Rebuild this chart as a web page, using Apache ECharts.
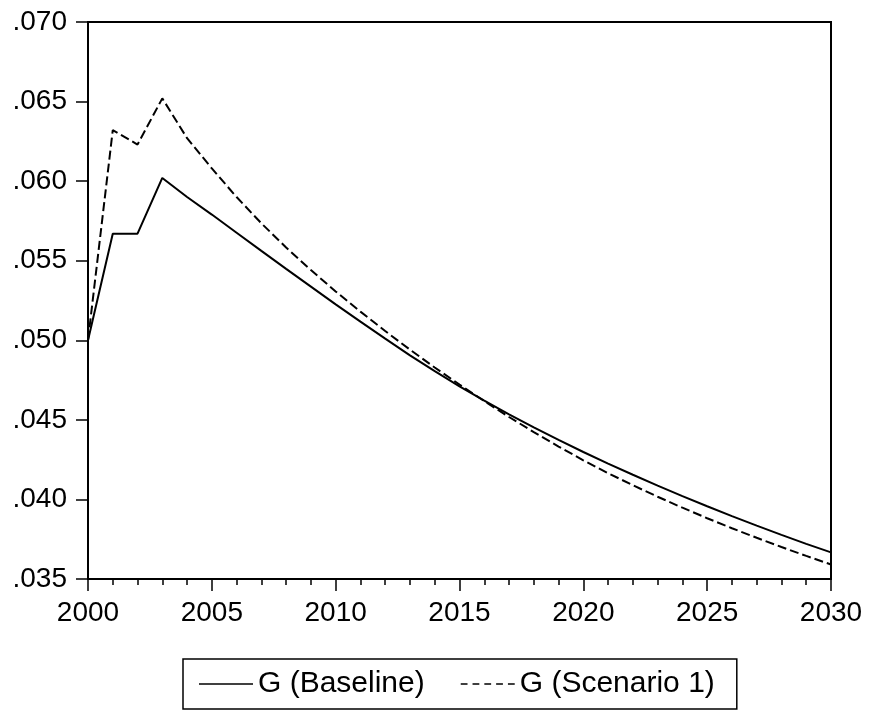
<!DOCTYPE html>
<html>
<head>
<meta charset="utf-8">
<script src="https://cdn.jsdelivr.net/npm/echarts@6/dist/echarts.min.js"></script>
<style>
html,body{margin:0;padding:0;background:#fff;}
#chart{width:869px;height:711px;}
</style>
</head>
<body>
<div id="chart"></div>
<script>
const years = [2000,2001,2002,2003,2004,2005,2006,2007,2008,2009,2010,
  2011,2012,2013,2014,2015,2016,2017,2018,2019,2020,
  2021,2022,2023,2024,2025,2026,2027,2028,2029,2030];
const baseline = [0.0500,0.0567,0.0567,0.0602,0.0590,0.0579,0.05676,0.05562,0.05449,0.05337,0.05226,
  0.05117,0.05010,0.04905,0.04806,0.04711,0.04621,0.04535,0.04453,0.04374,0.04298,
  0.04225,0.04155,0.04087,0.04021,0.03957,0.03895,0.03835,0.03777,0.03721,0.03667];
const scenario1 = [0.0500,0.0632,0.0623,0.0652,0.0627,0.0608,0.05900,0.05735,0.05583,0.05441,0.05307,
  0.05180,0.05058,0.04941,0.04829,0.04722,0.04618,0.04518,0.04423,0.04332,0.04246,
  0.04165,0.04089,0.04017,0.03948,0.03882,0.03819,0.03759,0.03701,0.03645,0.03591];
const seriesNames = ['G (Baseline)', 'G (Scenario 1)'];

const SOLID_ICON = 'path://M0,0H54V1.6H0Z';
const DASH_ICON = 'path://M0,0H6.8V1.6H0Z M11.8,0H18.6V1.6H11.8Z M23.6,0H30.4V1.6H23.6Z M35.4,0H42.2V1.6H35.4Z M47.2,0H54V1.6H47.2Z';

const chart = echarts.init(document.getElementById('chart'), null, {renderer: 'canvas'});
const FONT = 'Liberation Sans, Arial, sans-serif';
chart.setOption({
  animation: false,
  backgroundColor: '#fff',
  grid: {left: 88, top: 22, right: 38, bottom: 132, show: true, borderColor: '#000', borderWidth: 2, backgroundColor: 'transparent'},
  xAxis: {
    type: 'value', min: 2000, max: 2030, interval: 5,
    axisLine: {show: true, lineStyle: {color: '#000', width: 2}},
    axisTick: {show: true, length: 12, lineStyle: {color: '#000', width: 1.5}},
    minorTick: {show: true, splitNumber: 5, length: 6, lineStyle: {color: '#000', width: 1.5}},
    splitLine: {show: false},
    axisLabel: {color: '#000', fontSize: 28, fontFamily: FONT, margin: 20, formatter: v => String(v)}
  },
  yAxis: {
    type: 'value', min: 0.035, max: 0.070, interval: 0.005,
    axisLine: {show: true, lineStyle: {color: '#000', width: 2}},
    axisTick: {show: true, length: 12, lineStyle: {color: '#000', width: 1.5}},
    splitLine: {show: false},
    axisLabel: {color: '#000', fontSize: 28, fontFamily: FONT, margin: 21,
      formatter: v => v.toFixed(3).replace(/^0/, '')}
  },
  legend: {
    left: 183, top: 659,
    orient: 'horizontal',
    borderColor: '#000', borderWidth: 1.5,
    padding: [8, 22, 8, 16],
    itemWidth: 54, itemHeight: 30, itemGap: 36,
    symbolKeepAspect: true,
    textStyle: {color: '#000', fontSize: 30, fontFamily: FONT, lineHeight: 34},
    data: [
      {name: seriesNames[0], icon: SOLID_ICON, itemStyle: {color: '#000', borderWidth: 0}},
      {name: seriesNames[1], icon: DASH_ICON, itemStyle: {color: '#000', borderWidth: 0}}
    ]
  },
  series: [
    {
      name: seriesNames[0], type: 'line', symbol: 'none',
      data: years.map((y, i) => [y, baseline[i]]),
      lineStyle: {color: '#000', width: 2, type: 'solid'},
      itemStyle: {color: '#000'}
    },
    {
      name: seriesNames[1], type: 'line', symbol: 'none',
      data: years.map((y, i) => [y, scenario1[i]]),
      lineStyle: {color: '#000', width: 2, type: [9, 4]},
      itemStyle: {color: '#000'}
    }
  ]
});
</script>
</body>
</html>
